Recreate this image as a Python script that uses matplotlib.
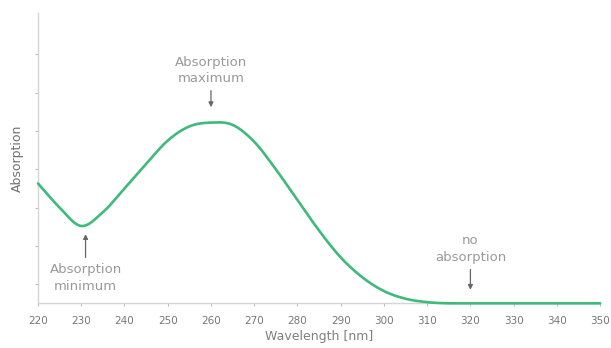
import matplotlib
matplotlib.use("Agg")
import matplotlib.pyplot as plt
import numpy as np

# comprimento de onda (nm) e absorcao
comprimentos = [220, 225, 230, 235, 240, 245, 250, 255, 260, 265, 270, 275, 280,
                285, 290, 295, 300, 305, 310, 315, 320, 330, 340, 350]
absorcao = [3.13, 2.50, 2.02, 2.38, 3.00, 3.64, 4.25, 4.62, 4.72, 4.66, 4.22, 3.50, 2.70,
            1.90, 1.20, 0.68, 0.32, 0.12, 0.03, 0.0, 0.0, 0.0, 0.0, 0.0]

ticks_x = list(range(220, 351, 10))
ticks_y = [0.5, 1.5, 2.5, 3.5, 4.5, 5.5, 6.5]

cinza = "#999999"
verde = "#3dba7c"

fig = plt.figure(figsize=(6.11, 3.48), dpi=100)
ax = fig.add_axes([0.0622, 0.1284, 0.92, 0.834])

# curva suave (spline catmull-rom entre os pontos lidos)
pts = list(zip(comprimentos, absorcao))
ini = (2 * pts[0][0] - pts[1][0], 2 * pts[0][1] - pts[1][1])
fim = (2 * pts[-1][0] - pts[-2][0], 2 * pts[-1][1] - pts[-2][1])
ext = [ini] + pts + [fim]
xs, ys = [], []
for i in range(1, len(ext) - 2):
    p0, p1, p2, p3 = ext[i - 1], ext[i], ext[i + 1], ext[i + 2]
    for t in np.linspace(0, 1, 20, endpoint=False):
        t2, t3 = t * t, t * t * t
        for k, lst in ((0, xs), (1, ys)):
            v = 0.5 * ((2 * p1[k]) + (-p0[k] + p2[k]) * t
                       + (2 * p0[k] - 5 * p1[k] + 4 * p2[k] - p3[k]) * t2
                       + (-p0[k] + 3 * p1[k] - 3 * p2[k] + p3[k]) * t3)
            lst.append(v)
xs.append(pts[-1][0])
ys.append(pts[-1][1])
ys = [max(v, 0.0) for v in ys]

ax.plot(xs, ys, color=verde, lw=1.9, solid_capstyle="round", clip_on=False, zorder=3)

ax.set_xlim(220, 350)
ax.set_ylim(0, 7.58)
ax.set_xticks(ticks_x)
ax.set_yticks(ticks_y)
ax.set_yticklabels([])
ax.tick_params(axis="x", colors="#bbbbbb", labelcolor="#777777", labelsize=7.5, length=2, pad=7)
ax.tick_params(axis="y", colors="#bbbbbb", length=2)

for lado in ("top", "right"):
    ax.spines[lado].set_visible(False)
for lado in ("left", "bottom"):
    ax.spines[lado].set_color("#d5d5d5")
    ax.spines[lado].set_linewidth(1.0)

ax.set_xlabel("Wavelength [nm]", fontsize=9, color="#808080", labelpad=3)
ax.set_ylabel("Absorption", fontsize=9, color="#707070", labelpad=5)

# anotacoes
estilo = dict(arrowstyle="-|>", color="#666666", lw=0.9, mutation_scale=7)
ax.annotate("Absorption\nmaximum", xy=(260, 5.05), xytext=(260, 5.7),
            ha="center", va="bottom", fontsize=9.5, color=cinza, linespacing=1.35,
            arrowprops=estilo)
ax.annotate("Absorption\nminimum", xy=(231, 1.88), xytext=(231, 1.05),
            ha="center", va="top", fontsize=9.5, color=cinza, linespacing=1.35,
            arrowprops=estilo)
ax.annotate("no\nabsorption", xy=(320, 0.28), xytext=(320, 1.03),
            ha="center", va="bottom", fontsize=9.5, color=cinza, linespacing=1.35,
            arrowprops=estilo)

fig.savefig("out.png", dpi=100)
